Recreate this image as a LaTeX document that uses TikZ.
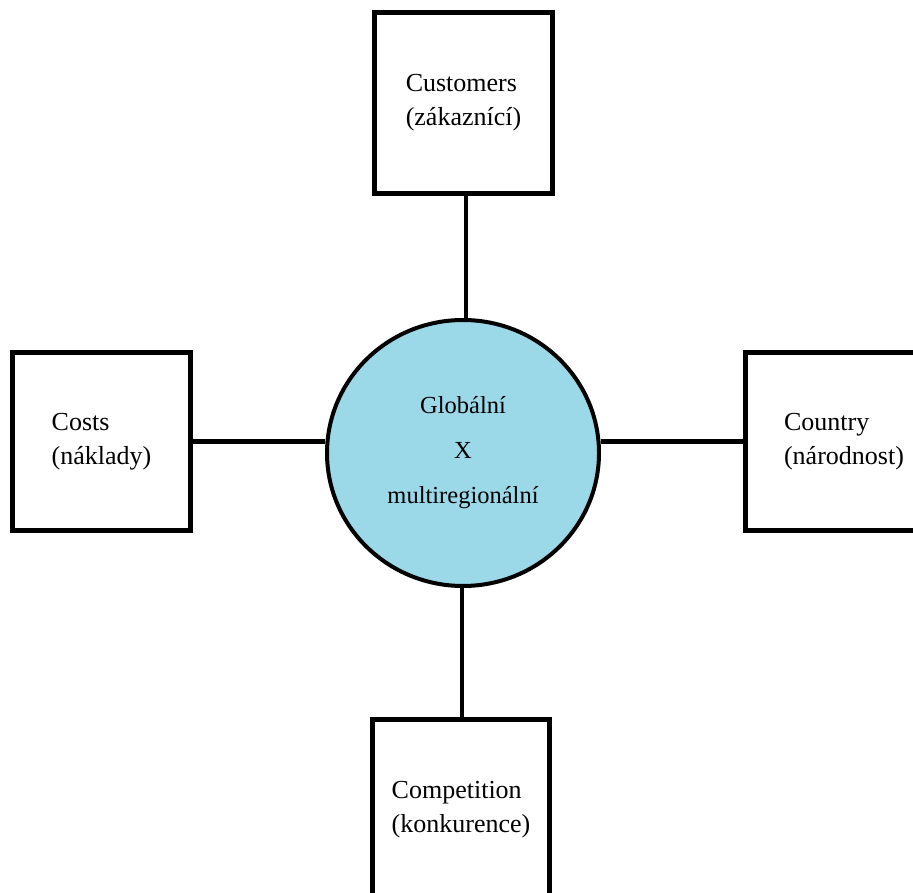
\documentclass[tikz,border=0pt]{standalone}
\usepackage{fontspec}
\setmainfont{Liberation Serif}
\usetikzlibrary{shapes.geometric}
\definecolor{hubblue}{RGB}{155,216,232}
\tikzset{
  factor/.style={draw=black, line width=5pt, rectangle, fill=white,
    inner sep=0pt, align=left,
    font=\fontsize{26}{34}\selectfont},
  hub/.style={draw=black, line width=4pt, ellipse, fill=hubblue,
    inner sep=0pt, align=center, minimum width=272pt, minimum height=266pt,
    font=\fontsize{24.5}{45}\selectfont},
  link/.style={draw=black, line width=4.5pt}
}
\begin{document}
\begin{tikzpicture}[x=1pt, y=-1pt]
  \clip (0,0) rectangle (913,893);
  \fill[white] (0,0) rectangle (913,893);

  % central strategy hub
  \node[hub] (hub) at (463,453) {Globální\\X\\multiregionální};

  % the four driving factors
  \node[factor, minimum width=178pt, minimum height=181pt] (cust) at (463.5,103)
    {Customers\\(zákaznící)};
  \node[factor, minimum width=178pt, minimum height=178pt] (cost) at (101.5,441.5)
    {Costs\\(náklady)};
  \node[factor, minimum width=197pt, minimum height=178pt] (ctry) at (844,441.5)
    {Country\\(národnost)};
  \node[factor, minimum width=177pt, minimum height=180pt] (comp) at (461,809.5)
    {Competition\\(konkurence)};

  % connectors from each factor to the hub
  \draw[link] ([xshift=2.5pt]cust.south) -- ([xshift=3pt]hub.north);
  \draw[link] (cost.east) -- (hub.west |- cost.east);
  \draw[link] (ctry.west) -- (hub.east |- ctry.west);
  \draw[link] ([xshift=-1pt]hub.south) -- ([xshift=1pt]comp.north);
\end{tikzpicture}
\end{document}
